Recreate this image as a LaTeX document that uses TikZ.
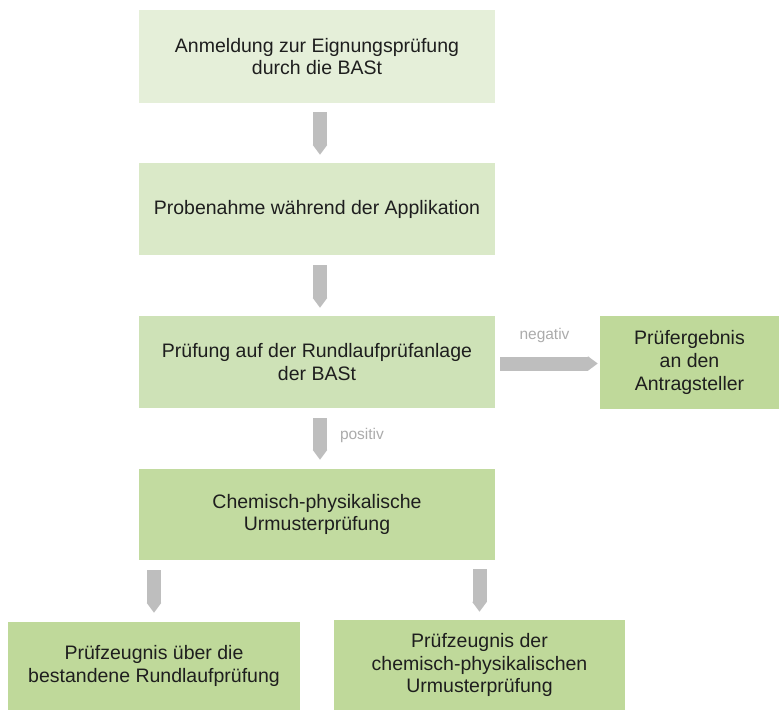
\documentclass[tikz,border=0pt]{standalone}
\usepackage{fontspec}
\setmainfont{Liberation Sans}
\usetikzlibrary{arrows.meta}
\definecolor{gA}{HTML}{E5EFD9}
\definecolor{gB}{HTML}{DAE9C8}
\definecolor{gC}{HTML}{CEE2B7}
\definecolor{gD}{HTML}{C2DBA0}
\definecolor{gE}{HTML}{BFD99A}
\definecolor{arr}{HTML}{BEBEBE}
\definecolor{lbl}{HTML}{ABABAB}
\definecolor{txt}{HTML}{1E1E1E}
\tikzset{
  box/.style={inner sep=0pt, align=center, text=txt,
    font=\fontsize{19.5pt}{22.8pt}\selectfont},
  flow/.style={draw=arr, line width=14pt, -{Triangle[length=10pt,width=14pt]}},
  lab/.style={text=lbl, font=\fontsize{15.5pt}{18pt}\selectfont, inner sep=0pt}
}
\begin{document}
\begin{tikzpicture}[x=1pt,y=-1pt]
\useasboundingbox (0,0) rectangle (779,710);
\node[box, fill=gA, minimum width=356pt, minimum height=93pt] (b1) at (317,56.5)
  {Anmeldung zur Eignungsprüfung\\durch die BASt};
\node[box, fill=gB, minimum width=356pt, minimum height=92pt] (b2) at (317,209)
  {Probenahme während der Applikation};
\node[box, fill=gC, minimum width=356pt, minimum height=92pt] (b3) at (317,362)
  {Prüfung auf der Rundlaufprüfanlage\\der BASt};
\node[box, fill=gD, minimum width=356pt, minimum height=91pt] (b4) at (317,514.5)
  {Chemisch-physikalische\\Urmusterprüfung};
\node[box, fill=gE, minimum width=179pt, minimum height=93pt] (b5) at (689.5,362.5)
  {Prüfergebnis\\an den\\Antragsteller};
\node[box, fill=gE, minimum width=292pt, minimum height=88pt] (b6) at (154,666)
  {Prüfzeugnis über die\\bestandene Rundlaufprüfung};
\node[box, fill=gE, minimum width=291pt, minimum height=90pt] (b7) at (479.5,665)
  {Prüfzeugnis der\\chemisch-physikalischen\\Urmusterprüfung};

\draw[flow, shorten <=9pt, shorten >=8pt] ([xshift=3pt]b1.south) -- ([xshift=3pt]b2.north);
\draw[flow, shorten <=10pt, shorten >=8pt] ([xshift=3pt]b2.south) -- ([xshift=3pt]b3.north);
\draw[flow, shorten <=10pt, shorten >=9pt] ([xshift=3pt]b3.south) -- ([xshift=3pt]b4.north)
  node[lab, pos=0.45, anchor=west, xshift=13pt] {positiv};
\draw[flow, shorten <=5pt, shorten >=2pt] ([yshift=-1.5pt]b3.east) -- ([yshift=-1.5pt]b3.east -| b5.west)
  node[lab, midway, anchor=south, yshift=14pt, xshift=-3pt] {negativ};
\draw[flow, shorten <=10pt, shorten >=9pt] (b4.south -| b6.north) -- (b6.north);
\draw[flow, shorten <=9pt, shorten >=8pt] (b4.south -| b7.north) -- (b7.north);
\end{tikzpicture}
\end{document}
